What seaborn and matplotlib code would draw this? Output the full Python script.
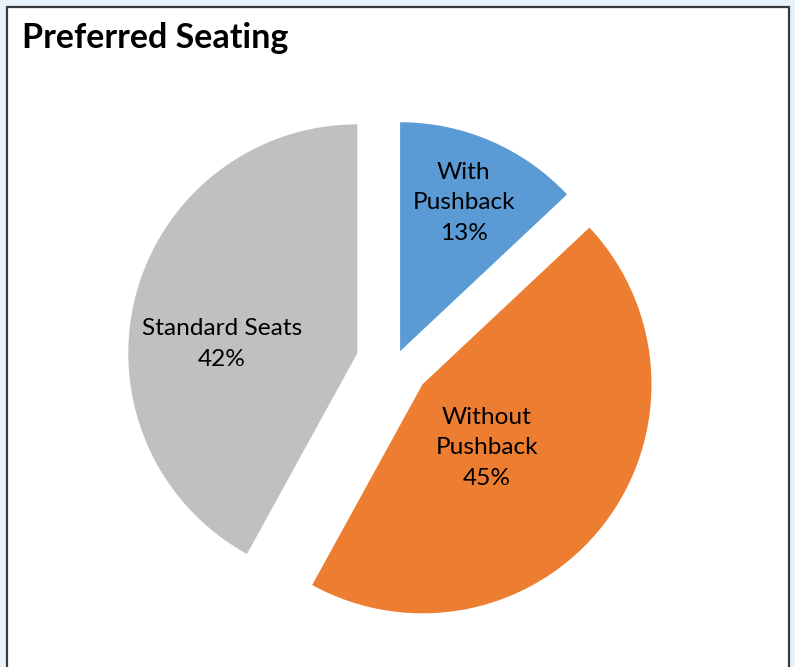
import matplotlib
matplotlib.use("Agg")
import matplotlib.pyplot as plt
import seaborn as sns
from matplotlib.patches import Rectangle

# data
categories = ["With\nPushback", "Without\nPushback", "Standard Seats"]
shares = [13, 45, 42]
explode = [0.056, 0.152, 0.17]
colors = ["#5B9BD5", "#ED7D31", "#BFC0BF"]
# label anchors (data units, pie radius = 1)
label_pos = [(0.301, 0.699), (0.402, -0.371), (-0.755, 0.083)]

sns.set_style("white")
plt.rcParams["font.family"] = ["Lato", "DejaVu Sans"]

W, H = 795, 667
fig = plt.figure(figsize=(W / 100, H / 100), dpi=100)
fig.patch.set_facecolor("#E8F2FA")

# white chart card with dark outline
fig.patches.append(Rectangle((7 / W, -0.02), (789 - 7) / W, 1.02 - 7 / H,
                             transform=fig.transFigure, facecolor="white",
                             edgecolor="#3a3a3a", linewidth=1.6, zorder=-5))

fig.text(22 / W, 1 - 48 / H, "Preferred Seating", fontsize=24.5,
         fontweight="bold", ha="left", va="baseline", color="black")

ax = fig.add_axes([0, 0, 1, 1])
ax.set_zorder(2)
ax.patch.set_visible(False)
ax.pie(shares, explode=explode, colors=colors, startangle=90,
       counterclock=False, wedgeprops=dict(linewidth=0))

for (x, y), cat, val in zip(label_pos, categories, shares):
    ax.text(x, y, f"{cat}\n{val}%", ha="center", va="center",
            fontsize=17.6, color="black", linespacing=1.55)

r = 229
cx, cy = 395, 363
ax.set_xlim(-cx / r, (W - cx) / r)
ax.set_ylim(-(H - cy) / r, cy / r)
ax.set_aspect("auto")
ax.axis("off")

fig.savefig("out.png", dpi=100, facecolor=fig.get_facecolor())
